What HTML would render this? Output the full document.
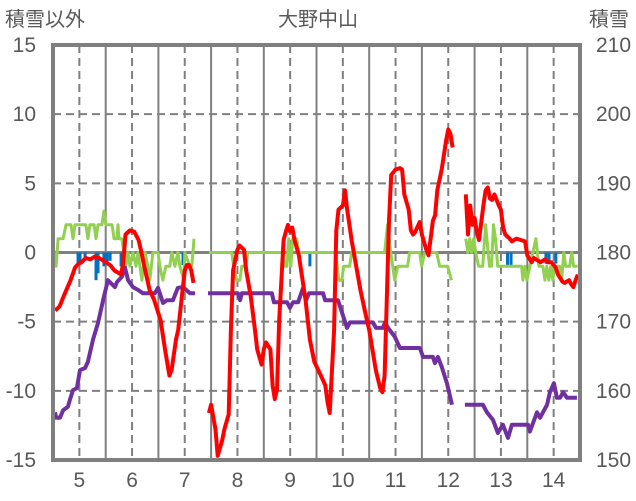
<!DOCTYPE html>
<html><head><meta charset="utf-8"><style>
html,body{margin:0;padding:0;background:#fff;}
svg{display:block;font-family:"Liberation Sans","Noto Sans CJK JP",sans-serif;}
</style></head><body>
<svg id="chart" width="636" height="501" viewBox="0 0 636 501" xmlns="http://www.w3.org/2000/svg">
<text x="5" y="26" font-size="20" fill="#595959">積雪以外</text>
<text x="318" y="26" font-size="20" fill="#595959" text-anchor="middle">大野中山</text>
<text x="589" y="26" font-size="20" fill="#595959">積雪</text>
<g id="grid"></g>
<g id="bars"></g>
<g id="lines"></g>
<g id="axes"></g>
</svg>
<script>
const xDays=[5,6,7,8,9,10,11,12,13,14];
const leftTicks=[15,10,5,0,-5,-10,-15];
const rightTicks=[210,200,190,180,170,160,150];
const redHours=[1,3,5,8,10,11,13,15,17,19,21,24,26,28,31,32,33,35,37,39,40,42,44,46,49,51,53,54,56,57,59,60,61,62,63,64,null,71,72,74,75,77,78,80,81,82,84,85,87,88,90,92,93,95,96,97,99,100,101,102,103,105,106,107,108,109,110,112,113,115,117,119,122,124,125,126,128,129,130,132,133,134,136,138,140,142,144,147,149,150,151,152,153,154,156,158,159,160,162,163,164,165,167,168,170,171,173,174,175,177,179,180,181,182,null,188,189,190,191,192,193,194,196,197,198,199,200,201,203,204,205,206,208,209,211,213,215,216,218,219,222,224,225,227,229,230,232,233,235,236,237,238,239];
const redValues=[-4.2,-3.9,-3.1,-2.0,-1.1,-0.9,-0.7,-0.4,-0.5,-0.3,-0.4,-0.7,-0.9,-1.3,-1.6,-0.7,1.3,1.6,1.5,0.9,0.2,-1.3,-2.7,-3.4,-4.9,-7.0,-8.9,-8.5,-6.3,-5.6,-2.7,-1.3,-0.9,-0.9,-1.3,-2.2,null,-11.6,-11.0,-12.8,-14.7,-13.6,-12.8,-11.7,-5.6,-1.3,0.2,0.5,0.2,-1.3,-3.1,-5.6,-7.0,-8.1,-7.0,-6.5,-7.0,-9.6,-10.6,-9.9,-4.9,0.9,1.5,2.0,1.5,1.8,0.9,-0.2,-1.3,-3.4,-6.3,-7.9,-8.9,-9.6,-10.8,-11.6,-5.6,1.6,3.1,3.4,4.5,3.1,0.9,-0.9,-2.7,-4.2,-5.6,-8.5,-9.8,-10.1,-8.9,-3.4,2.3,5.6,6.0,6.1,6.0,4.2,3.1,1.6,1.3,1.5,2.2,1.3,0.2,-0.2,2.3,2.7,4.5,6.0,8.1,8.9,8.6,7.6,null,4.2,1.3,3.4,2.0,2.5,1.5,0.9,3.4,4.5,4.7,3.9,3.8,4.2,3.4,3.1,1.8,1.3,1.0,0.8,1.0,0.9,0.8,-0.2,-0.7,-0.4,-0.7,-0.5,-0.7,-0.7,-1.1,-1.6,-2.1,-2.2,-2.0,-2.3,-2.5,-2.0,-1.6];
const greenHours=[0.9,1.4,2.3,4.6,5.9,8.2,9.1,10,15,15.9,16.8,18.7,19.6,20.5,22.3,23.2,24.1,26.9,27.8,29.1,29.6,30,31.4,32.3,33.2,34.1,35,36.4,37.8,38.7,40.5,41.9,43.2,44.1,45.5,47.8,48.7,50,51.4,53.2,54.1,55.5,56.9,57.8,59.6,60,62.3,63.2,64.2,null,71,81.4,82.3,83.7,85.1,86,87.8,88.7,104.7,105.6,106.5,107.4,108.3,109.2,111,111.9,128.8,130.1,131.5,132.4,135.1,136,151,152.4,153.8,155.6,157,161.5,162.4,167,167.9,169.3,174.7,176.1,179.7,181.5,null,188,188.9,189.8,190.7,191.6,192.5,193.8,195.7,197,198.8,199.7,200.6,201.5,202.5,213.4,214,214.9,215.8,217.2,219.9,221.3,223.1,224,224.9,225.8,226.7,227.6,228.5,230.7,231.6,232.6,233.5,235.3,236.2,237.1,238.9];
const greenValues=[0,-1,1,1,2,2,1,2,2,1,2,2,1,2,2,3,2,2,1,1,2,1,1,0,-1,0,-1,0,-1,0,-2,0,-1,-2,0,0,-1,-2,-1,-1,0,-1,0,-1,-2,0,-1,-1,1,null,0,0,-1,-2,-2,-1,-1,0,0,-1,-1,1,-1,1,1,0,0,-2,-2,-1,-1,0,0,2,0,-2,-1,-1,0,0,-1,0,0,-1,-1,-2,null,1,0,1,0,1,0,-1,-1,2,-1,-1,2,1,-1,-1,-2,-1,-2,-1,1,-1,-1,-2,-1,-2,-1,-2,-1,-1,-2,0,-1,-1,0,-1,-1];
const snowHours=[0.9,1.4,3.2,4.6,6.8,7.7,9.1,10.9,12.3,14.6,15.9,18.2,20.5,22.8,25,28.2,29.1,31.4,32.8,34.2,36.4,38.7,41,46.4,47.8,50.1,51.9,54.6,56.9,59.2,62.4,64.7,null,70.6,84.2,85.2,86,99.7,100.6,106.6,107.9,109.3,111.6,113.9,115.2,116.6,123,123.9,129.8,133.9,135.2,145.7,147.1,150.3,151.2,152.6,155.7,158,167.1,168.5,173,173.9,175.3,177.1,179.4,181.7,null,187.6,195.8,197.6,200.4,202.6,204.9,207.2,209,216.3,217.2,220.4,221.8,225,226.3,228.1,229.5,230.9,232.3,234.1,238.6];
const snowValues=[156.9,156.1,156.1,157.2,157.7,158.7,160.1,160.4,163.0,163.3,164.2,167.4,169.8,173.1,176.0,175.0,175.7,176.5,177.8,176.0,175.0,174.6,174.1,174.1,174.9,172.7,173.1,173.1,174.9,175.0,174.1,174.1,null,174.1,174.1,173.1,174.1,174.1,172.8,172.8,172.0,172.8,172.8,174.9,173.1,174.1,174.1,173.1,173.1,169.1,169.9,169.9,169.1,169.1,169.9,169.1,167.8,166.2,166.2,164.9,164.9,164.0,164.9,163.4,161.1,158.0,null,158.0,158.0,156.9,155.8,153.9,155.1,153.2,155.1,155.1,154.1,156.9,156.1,158.0,159.8,161.1,159.0,159.0,159.8,159.0,159.0];
const barHours=[11.4,12.3,14.6,19.6,20.5,23.2,24.6,26,31,59.2,117,207,208.6,224.5,225.9,229];
const barValues=[-0.8,-0.7,-0.6,-2,-1.5,-1,-0.8,-0.6,-1,-0.9,-1,-1,-1,-0.8,-0.6,-0.8];

const X0=53,X1=580,Y0=45,Y1=460,NS="http://www.w3.org/2000/svg";
const xs=h=>X0+h/240*(X1-X0);
const yl=v=>Y1-(v+15)/30*(Y1-Y0);
const yr=v=>Y1-(v-150)/60*(Y1-Y0);
function mk(tag,attrs,parent){const e=document.createElementNS(NS,tag);for(const k in attrs)e.setAttribute(k,attrs[k]);parent.appendChild(e);return e;}
const grid=document.getElementById('grid'),bars=document.getElementById('bars'),lines=document.getElementById('lines'),axes=document.getElementById('axes');
leftTicks.forEach(v=>{
  if(v===15||v===-15)return;
  const l=mk('line',{x1:X0,x2:X1,y1:yl(v),y2:yl(v),stroke:'#808080','stroke-width':v===0?3:2,'stroke-dasharray':v===0?'none':'8,5'},grid);
  
  
});
for(let d=0;d<10;d++){
  const xm=xs(d*24+12);
  const dl=mk('line',{x1:xm,x2:xm,y1:Y0,y2:Y1,stroke:'#808080','stroke-width':2,'stroke-dasharray':'8,5'},grid);
  
  
  if(d>0){const xd=xs(d*24);
    const sl=mk('line',{x1:xd,x2:xd,y1:Y0,y2:Y1,stroke:'#808080','stroke-width':2},grid);
    
    }
}
barHours.forEach((h,i)=>{
  const y=yl(0),y2=yl(barValues[i]);
  const r=mk('rect',{x:xs(h)-1.5,y:Math.min(y,y2),width:3,height:Math.abs(y2-y),fill:'#0070C0'},bars);
  
  
});
function path(hs,vs,yf){let d='',pen=false;hs.forEach((h,i)=>{if(h===null||vs[i]===null){pen=false;return;}d+=(pen?'L':'M')+xs(h).toFixed(1)+','+yf(vs[i]).toFixed(1);pen=true;});return d;}
const pg=mk('path',{d:path(greenHours,greenValues,yl),fill:'none',stroke:'#92D050','stroke-width':3,'stroke-linejoin':'round'},lines);


const pp=mk('path',{d:path(snowHours,snowValues,yr),fill:'none',stroke:'#7030A0','stroke-width':4,'stroke-linejoin':'round'},lines);


const pr=mk('path',{d:path(redHours,redValues,yl),fill:'none',stroke:'#FF0000','stroke-width':4,'stroke-linejoin':'round'},lines);


const fr=mk('rect',{x:X0,y:Y0,width:X1-X0,height:Y1-Y0,fill:'none',stroke:'#7f7f7f','stroke-width':4},axes);


leftTicks.forEach(v=>{
  const t=mk('text',{x:36,y:yl(v)+7,'font-size':21,fill:'#595959','text-anchor':'end'},axes);t.textContent=v;
  
  
});
rightTicks.forEach(v=>{
  const t=mk('text',{x:596,y:yr(v)+7,'font-size':21,fill:'#595959'},axes);t.textContent=v;
  
  
});
xDays.forEach((d,i)=>{
  const t=mk('text',{x:xs(i*24+12),y:487,'font-size':21,fill:'#595959','text-anchor':'middle'},axes);t.textContent=d;
  
  
});
</script>
</body></html>
